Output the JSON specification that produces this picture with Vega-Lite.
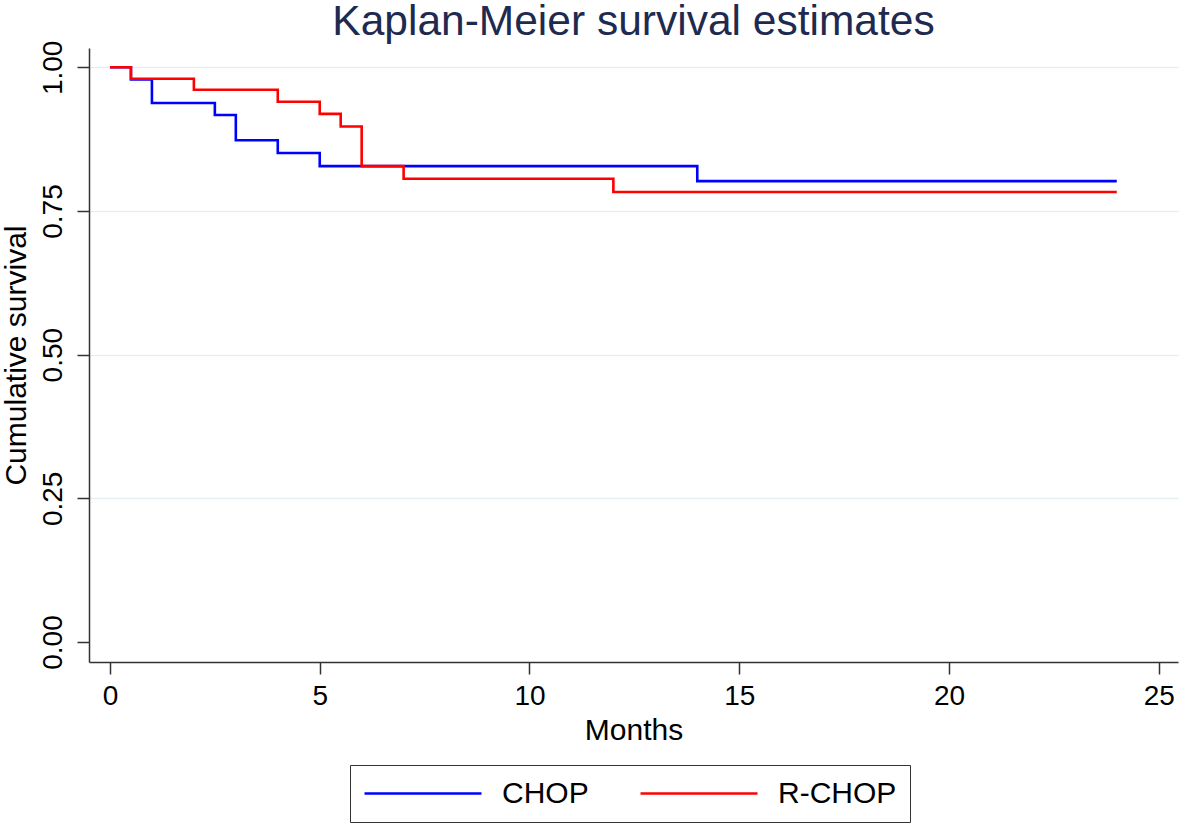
{
  "$schema": "https://vega.github.io/schema/vega-lite/v6.json",
  "width": 1089,
  "height": 614,
  "autosize": {"type": "none"},
  "padding": {"left": 89, "top": 48, "right": 2, "bottom": 164},
  "background": "white",
  "title": {
    "text": "Kaplan-Meier survival estimates",
    "font": "Liberation Sans",
    "fontSize": 42.5,
    "fontWeight": "normal",
    "color": "#1e2a4f",
    "anchor": "middle",
    "frame": "group",
    "baseline": "alphabetic",
    "offset": -37
  },
  "data": {
    "values": [
      {"group": "CHOP", "months": 0, "survival": 1.0},
      {"group": "CHOP", "months": 0.5, "survival": 0.979},
      {"group": "CHOP", "months": 1, "survival": 0.938},
      {"group": "CHOP", "months": 2.5, "survival": 0.917},
      {"group": "CHOP", "months": 3, "survival": 0.873},
      {"group": "CHOP", "months": 4, "survival": 0.851},
      {"group": "CHOP", "months": 5, "survival": 0.828},
      {"group": "CHOP", "months": 14, "survival": 0.802},
      {"group": "CHOP", "months": 24, "survival": 0.802},
      {"group": "R-CHOP", "months": 0, "survival": 1.0},
      {"group": "R-CHOP", "months": 0.5, "survival": 0.98},
      {"group": "R-CHOP", "months": 2, "survival": 0.961},
      {"group": "R-CHOP", "months": 4, "survival": 0.94},
      {"group": "R-CHOP", "months": 5, "survival": 0.919},
      {"group": "R-CHOP", "months": 5.5, "survival": 0.897},
      {"group": "R-CHOP", "months": 6, "survival": 0.828},
      {"group": "R-CHOP", "months": 7, "survival": 0.806},
      {"group": "R-CHOP", "months": 12, "survival": 0.783},
      {"group": "R-CHOP", "months": 24, "survival": 0.783}
    ]
  },
  "mark": {"type": "line", "interpolate": "step-after", "strokeWidth": 2.6, "clip": true},
  "encoding": {
    "x": {
      "field": "months",
      "type": "quantitative",
      "scale": {"domain": [-0.5, 25.46], "nice": false, "zero": false},
      "axis": {
        "title": "Months",
        "values": [0, 5, 10, 15, 20, 25],
        "grid": false,
        "labelFontSize": 28,
        "titleFontSize": 30,
        "labelPadding": 8,
        "titlePadding": 5
      }
    },
    "y": {
      "field": "survival",
      "type": "quantitative",
      "scale": {"domain": [-0.0348, 1.0336], "nice": false, "zero": false},
      "axis": {
        "title": "Cumulative survival",
        "values": [0, 0.25, 0.5, 0.75, 1.0],
        "format": ".2f",
        "grid": true,
        "gridColor": {"condition": {"test": "datum.value === 0", "value": "transparent"}, "value": "#e6eff1"},
        "gridWidth": 1.5,
        "labelAngle": -90,
        "labelAlign": "center",
        "labelBaseline": "bottom",
        "labelFontSize": 28,
        "titleFontSize": 30,
        "labelPadding": 10,
        "titlePadding": 8
      }
    },
    "color": {
      "field": "group",
      "type": "nominal",
      "scale": {"domain": ["CHOP", "R-CHOP"], "range": ["#0000ff", "#ff0000"]},
      "legend": {
        "title": null,
        "orient": "none",
        "legendX": 261,
        "legendY": 717,
        "direction": "horizontal",
        "columns": 2,
        "symbolType": "stroke",
        "symbolSize": 13689,
        "symbolStrokeWidth": 2.6,
        "clipHeight": 31,
        "labelFontSize": 30,
        "labelOffset": 19,
        "columnPadding": 50,
        "padding": 13,
        "strokeColor": "#333333",
        "labelColor": "black"
      }
    }
  },
  "config": {
    "font": "Liberation Sans",
    "view": {"stroke": null},
    "axis": {
      "domainColor": "#333333",
      "domainWidth": 1.5,
      "tickColor": "#333333",
      "tickWidth": 1.5,
      "tickSize": 12,
      "labelColor": "black",
      "titleColor": "black",
      "titleFontWeight": "normal",
      "labelFont": "Liberation Sans",
      "titleFont": "Liberation Sans"
    },
    "legend": {"labelFont": "Liberation Sans"}
  }
}
